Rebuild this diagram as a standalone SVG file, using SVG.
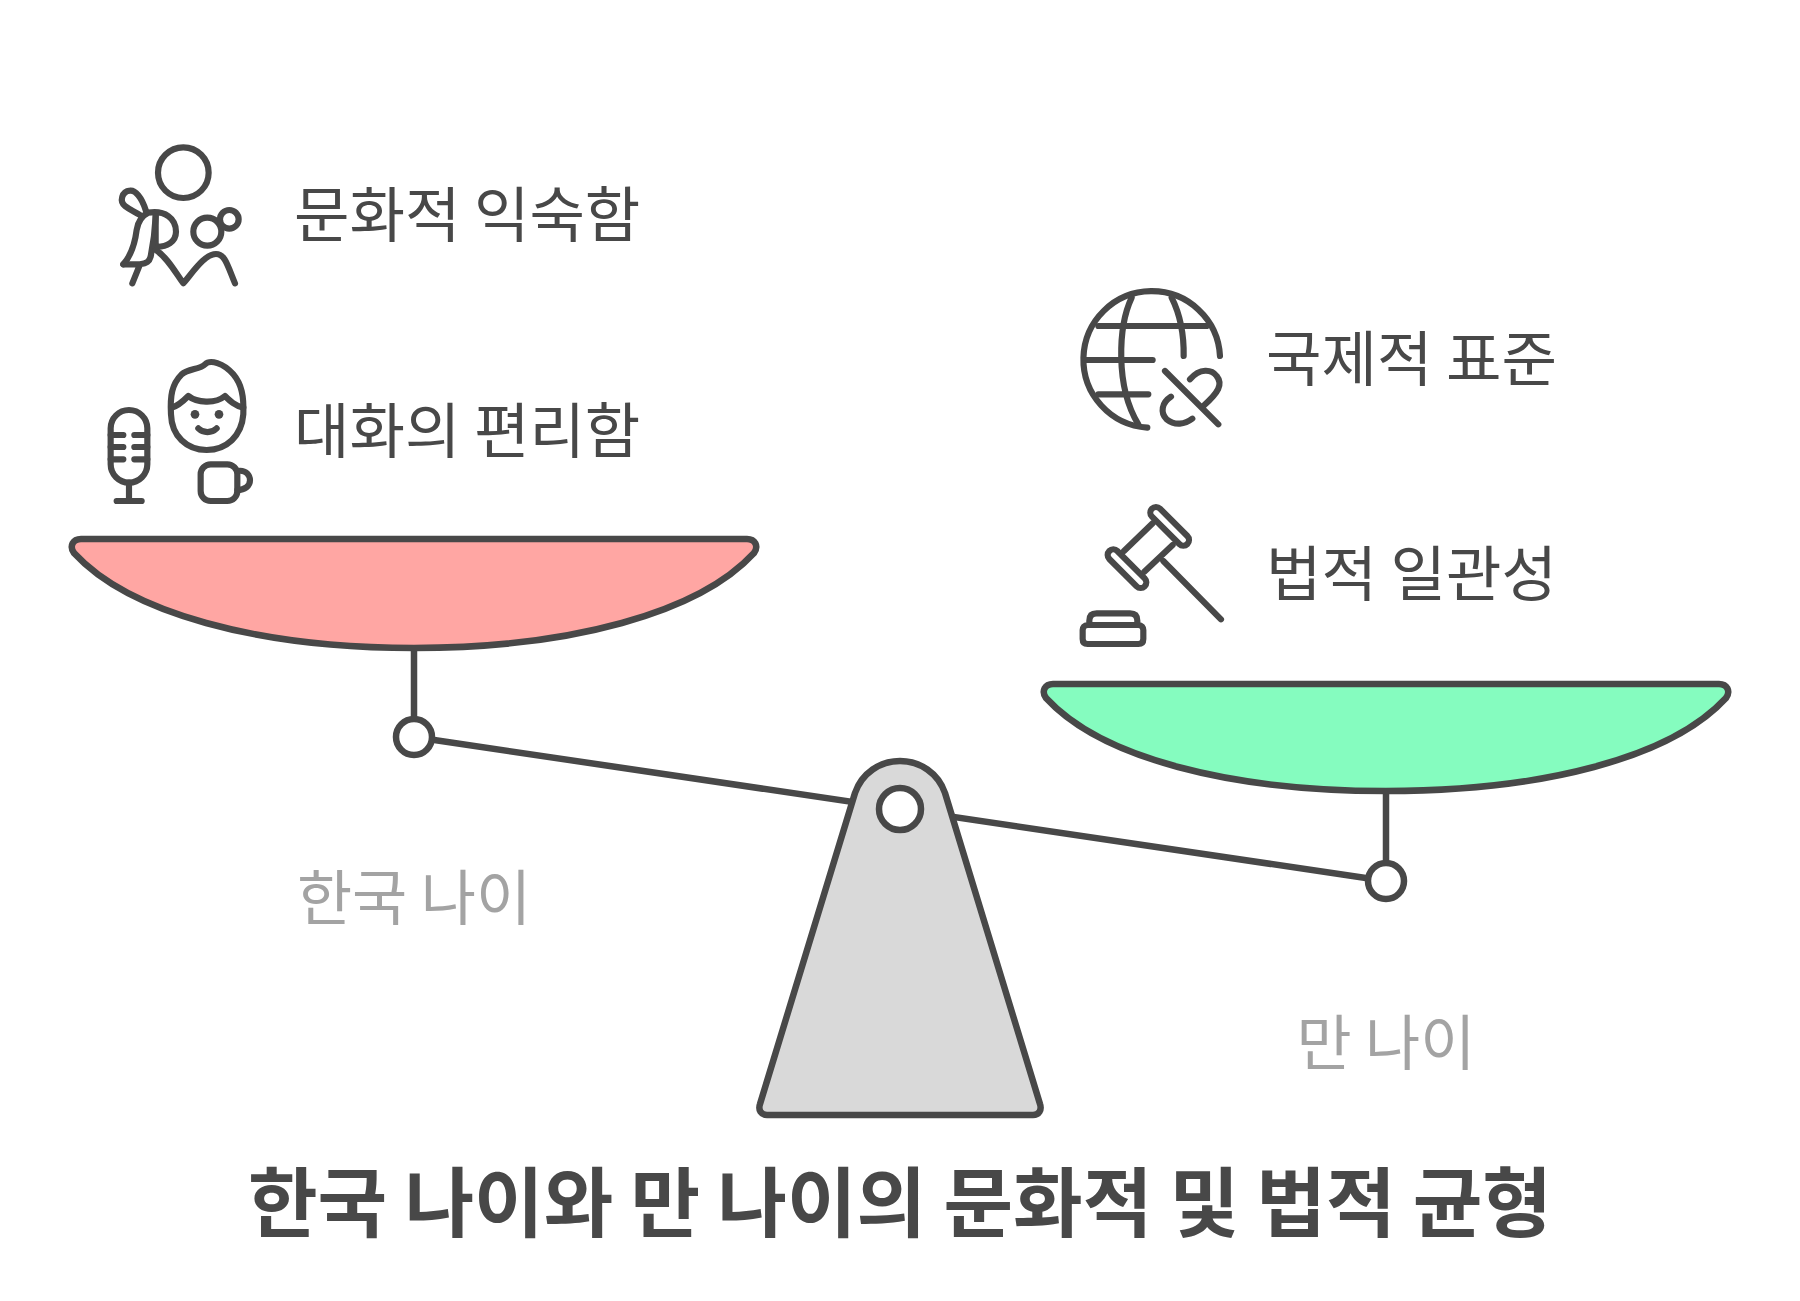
<svg xmlns="http://www.w3.org/2000/svg" width="1800" height="1301" viewBox="0 0 1800 1301">
<style>
.s{fill:none;stroke:#484848;stroke-width:18.5;stroke-linecap:round;stroke-linejoin:round}
.d{fill:#484848}
.b{stroke:#484848;stroke-width:6.5;stroke-linejoin:round;stroke-linecap:round}
.t{font-family:"Noto Sans CJK KR","Noto Sans",sans-serif;font-size:60.3px;fill:#484848}
.g{font-family:"Noto Sans CJK KR","Noto Sans",sans-serif;font-size:60px;fill:#a3a3a3;text-anchor:middle}
.h{font-family:"Noto Sans CJK KR","Noto Sans",sans-serif;font-size:75.7px;font-weight:700;fill:#484848;text-anchor:middle}
</style>
<rect width="1800" height="1301" fill="#fff"/>
<g id="connectors">
<path class="b" fill="none" d="M414 648V737M414 737L1386 881M1386 791V881"/>
</g>
<g id="pan-left">
<path class="b" fill="#ffa6a3" d="M81 539H747C755 539 759 546 754 553C699 613 570 648 414 648C258 648 129 613 74 553C69 546 73 539 81 539Z"/>
<circle class="b" fill="#fff" cx="414" cy="737" r="18"/>
<text class="g" x="414" y="920">한국 나이</text>
</g>
<g id="pan-right">
<path class="b" fill="#85fcbf" d="M1053 684H1719C1727 684 1731 691 1726 698C1671 758 1542 791 1386 791C1230 791 1101 758 1046 698C1041 691 1045 684 1053 684Z"/>
<circle class="b" fill="#fff" cx="1386" cy="881" r="18"/>
<text class="g" x="1386" y="1065">만 나이</text>
</g>
<g id="fulcrum">
<path class="b" fill="#d9d9d9" d="M855 793C862 773 880 761 900 761C920 761 938 773 945 793L1040 1104C1042 1110 1039 1115 1033 1115H767C761 1115 758 1110 760 1104Z"/>
<circle class="b" fill="#fff" cx="900" cy="809" r="21"/>
</g>
<g id="familiarity" transform="translate(90 130) scale(.3333)">
<circle class="s" cx="280" cy="128" r="76"/>
<path class="s" d="M168 243C155 200 135 180 120 182C95 184 88 215 105 228C120 240 135 245 150 255"/>
<path class="s" d="M100 403C125 375 135 340 140 300C145 270 160 255 175 248C225 240 258 265 258 305C258 335 230 352 197 350M197 255V350"/>
<path class="s" d="M197 260C195 300 190 340 182 380C178 395 170 400 150 403H100M150 403L127 460"/>
<path class="s" d="M197 360C230 380 255 425 280 460C310 425 345 372 378 372C405 372 412 405 435 460"/>
<circle class="s" cx="352" cy="305" r="42"/>
<circle class="s" cx="418" cy="268" r="28"/>
</g>
<g id="conversation" transform="translate(90 346) scale(.3333)">
<path class="s" d="M345 55C360 40 400 50 430 85C455 115 462 150 460 205C455 270 410 312 350 312C290 312 245 270 243 205C240 150 245 115 275 85C295 68 330 70 345 55Z"/>
<path class="s" d="M245 185C265 180 280 165 295 150C320 170 375 175 405 150C420 165 435 180 460 185"/>
<circle class="d" cx="315" cy="205" r="13"/><circle class="d" cx="387" cy="205" r="13"/>
<path class="s" d="M325 247C340 262 365 262 380 247"/>
<rect class="s" x="62" y="192" width="110" height="218" rx="55"/>
<path class="s" d="M62 267H100M133 267H172M62 303H100M133 303H172M62 340H100M133 340H172M117 410V465M80 465H155"/>
<rect class="s" x="332" y="355" width="110" height="110" rx="30"/>
<path class="s" d="M442 375C470 370 480 390 480 403C480 420 465 432 442 432"/>
</g>
<g id="standard" transform="translate(1060 276) scale(.3333)">
<path class="s" d="M262 455A205 205 0 1 1 480 240"/>
<path class="s" d="M215 65C175 150 165 330 235 445M335 65C360 115 372 180 371 240M115 150H440M78 252H278M115 355H265"/>
<path class="s" d="M315 285L475 445M333 362C305 380 300 410 320 430C345 450 375 445 397 428M390 310C420 275 455 280 470 300C490 325 475 350 430 390"/>
</g>
<g id="legal" transform="translate(1060 490) scale(.3333)">
<rect class="s" x="-75" y="-17" width="150" height="34" rx="17" transform="translate(329 109) rotate(45)"/>
<rect class="s" x="-75" y="-17" width="150" height="34" rx="17" transform="translate(201 236) rotate(45)"/>
<path class="s" d="M278 100L192 183M338 165L253 245M310 213L483 388"/>
<path class="s" d="M88 405V392C88 377 95 370 110 370H210C225 370 232 377 232 392V405M83 405H235C245 405 250 412 250 420V447C250 457 245 462 235 462H83C73 462 68 457 68 447V420C68 412 73 405 83 405Z"/>
</g>
<text class="t" x="294" y="237">문화적 익숙함</text>
<text class="t" x="294" y="453">대화의 편리함</text>
<text class="t" x="1266" y="381">국제적 표준</text>
<text class="t" x="1266" y="596">법적 일관성</text>
<text class="h" x="900" y="1231">한국 나이와 만 나이의 문화적 및 법적 균형</text>
</svg>
